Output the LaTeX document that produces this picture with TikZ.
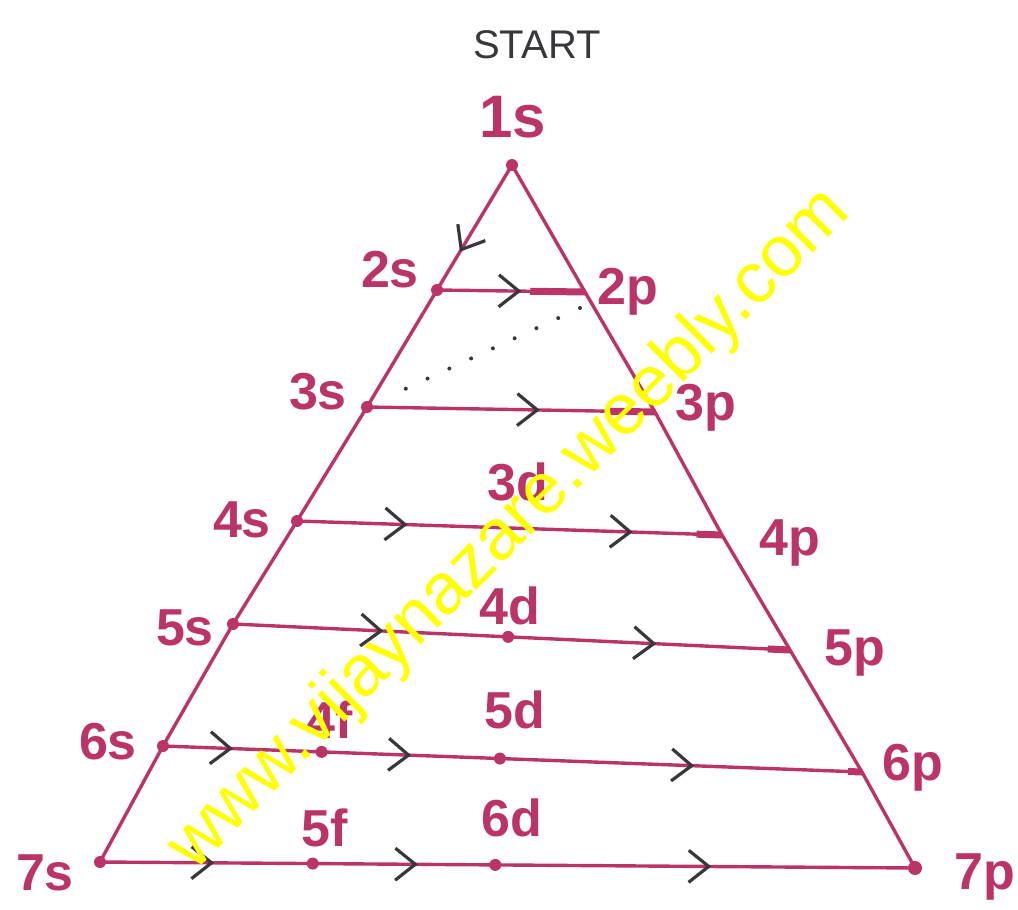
\documentclass[tikz,border=0pt]{standalone}
\usepackage{fontspec}
\setmainfont{Liberation Sans}
\usepackage{xcolor}
\usepackage{tikz}
\usetikzlibrary{arrows.meta, calc, decorations.markings}

\definecolor{inkpink}{RGB}{186,52,104}
\definecolor{pengray}{RGB}{55,55,60}
\definecolor{webyellow}{RGB}{255,255,0}

\newcommand{\chevtip}{\arrow{Straight Barb[length=10pt, width=16pt, line width=1.6pt, color=pengray]}}

\begin{document}
\begin{tikzpicture}[x=0.5pt, y=-0.5pt,
  edge/.style={draw=inkpink, line width=1.7pt},
  endbar/.style={draw=inkpink, line width=3.5pt},
  chev/.style={postaction={decorate, decoration={markings, mark=at position #1 with {\chevtip}}}},
  orb/.style={text=inkpink, font=\bfseries\fontsize{26}{26}\selectfont, inner sep=0pt}]
\useasboundingbox (0,0) rectangle (1018,910);

% s side (left edge)
\coordinate (s1) at (512,165);
\coordinate (s2) at (437,290);
\coordinate (s3) at (367,407);
\coordinate (s4) at (297,521);
\coordinate (s5) at (233,624);
\coordinate (s6) at (163,746);
\coordinate (s7) at (100,862);

% p side (right edge)
\coordinate (p2) at (585,292);
\coordinate (p3) at (655,412);
\coordinate (p4) at (722,535);
\coordinate (p5) at (790,650);
\coordinate (p6) at (862,772);
\coordinate (p7) at (915,868);

% triangle
\draw[edge, chev=0.125] (s1) -- (s2) -- (s3) -- (s4) -- (s5) -- (s6) -- (s7);
\draw[edge] (s1) -- (p2) -- (p3) -- (p4) -- (p5) -- (p6) -- (p7);

% rows, filled from s to p
\draw[edge, chev=0.57] (s2) -- (p2);
\draw[edge, chev=0.60] (s3) -- (p3);
\draw[edge, chev=0.26, chev=0.79] (s4) -- (p4);
\draw[edge, chev=0.27, chev=0.76] (s5) -- (p5);
\draw[edge, chev=0.10, chev=0.355, chev=0.76] (s6) -- (p6);
\draw[edge, chev=0.14, chev=0.39, chev=0.75] (s7) -- (p7);

% heavy ends at the p side
\draw[endbar] ($(p2)!0.37!(s2)$) -- (p2);
\draw[endbar] ($(p3)!0.17!(s3)$) -- (p3);
\draw[endbar] ($(p4)!0.06!(s4)$) -- (p4);
\draw[endbar] ($(p5)!0.04!(s5)$) -- (p5);
\draw[endbar] ($(p6)!0.02!(s6)$) -- (p6);

% d and f positions on the rows
\coordinate (d4) at ($(s5)!0.494!(p5)$);
\coordinate (d5) at ($(s6)!0.482!(p6)$);
\coordinate (f4) at ($(s6)!0.227!(p6)$);
\coordinate (d6) at ($(s7)!0.485!(p7)$);
\coordinate (f5) at ($(s7)!0.261!(p7)$);

% dots
\foreach \pt in {s1,s2,s3,s4,s5,s6,s7,d4,d5,f4,d6,f5}
  \fill[inkpink] (\pt) circle (3pt);
\fill[inkpink] (p7) circle (3.5pt);

% 2p back to 3s
\coordinate (jumpA) at (580,308);
\coordinate (jumpB) at (390,396);
\draw[pengray, line width=2pt, line cap=round, dash pattern=on 0pt off 12pt] (jumpA) -- (jumpB);

% labels
\node[text=pengray, font=\fontsize{20}{20}\selectfont] (start) at (537,45) {START};
\node[orb, font=\bfseries\fontsize{30}{30}\selectfont] (l1s) at (513,117) {1s};
\node[orb] (l2s) at (390,270) {2s};
\node[orb] (l2p) at (628,292) {2p};
\node[orb] (l3s) at (318,392) {3s};
\node[orb] (l3p) at (706,408) {3p};
\node[orb] (l4s) at (242,520) {4s};
\node[orb] (l4p) at (790,543) {4p};
\node[orb] (l5s) at (185,628) {5s};
\node[orb] (l5p) at (855,653) {5p};
\node[orb] (l6s) at (108,742) {6s};
\node[orb] (l6p) at (913,768) {6p};
\node[orb] (l7s) at (45,873) {7s};
\node[orb] (l7p) at (985,877) {7p};
\node[orb] (l3d) at (518,482) {3d};
\node[orb] (l4d) at (510,606) {4d};
\node[orb] (l5d) at (515,710) {5d};
\node[orb] (l6d) at (512,818) {6d};
\node[orb] (l4f) at (330,720) {4f};
\node[orb] (l5f) at (325,828) {5f};

% site mark
\node[rotate=45, text=webyellow, font=\fontsize{36}{36}\selectfont] (site) at (510,530) {www.vijaynazare.weebly.com};
\end{tikzpicture}
\end{document}
